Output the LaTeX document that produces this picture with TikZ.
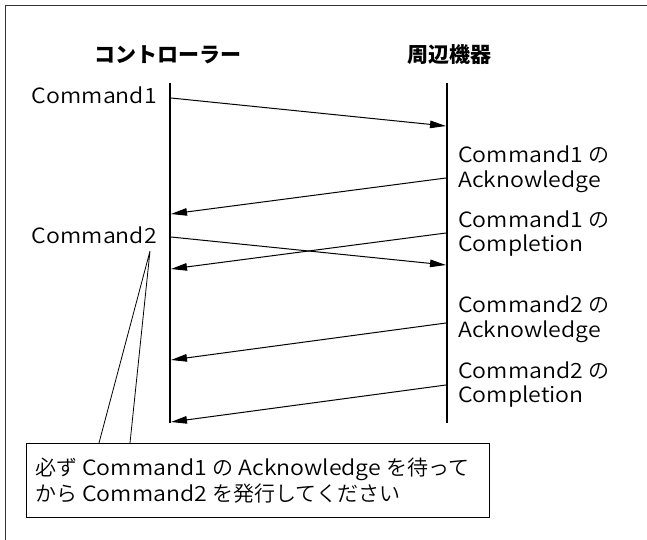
\documentclass[tikz,border=0pt]{standalone}
\usepackage{fontspec}
\newfontfamily\jpb{Noto Sans CJK JP}
\newfontfamily\jp{Noto Sans CJK JP DemiLight}
\newfontfamily\la{Noto Sans CJK JP DemiLight}[FakeStretch=1.1]
\usetikzlibrary{arrows.meta}
\begin{document}
\begin{tikzpicture}[x=1pt,y=-1pt,
  frame/.style={line width=1.3pt,black!80},
  life/.style={line width=2pt},
  msg/.style={line width=1pt,-{Triangle[length=16pt,width=7.5pt]}},
  title/.style={inner sep=0pt,font=\jpb\bfseries\fontsize{21}{25}\selectfont},
  lbl/.style={inner sep=0pt,anchor=base west,font=\la\fontsize{21}{25}\selectfont},
  lblr/.style={inner sep=0pt,anchor=base east,font=\la\fontsize{21}{25}\selectfont},
  callbox/.style={draw,line width=1pt,fill=white,anchor=north west,inner sep=0pt,
    minimum width=463pt,minimum height=74pt},
  pointer/.style={line width=0.8pt}]
\useasboundingbox (0,0) rectangle (647,540);
\draw[frame] (5.5,540) -- (5.5,5.5) -- (647,5.5);

% titles
\node[title] (tctl) at (168,55) {コントローラー};
\node[title] (tdev) at (449,55) {周辺機器};

% lifelines
\coordinate (Ltop) at (170,83);
\coordinate (Lbot) at (170,423);
\coordinate (Rtop) at (447,83);
\coordinate (Rbot) at (447,423);
\draw[life] (Ltop) -- (Lbot);
\draw[life] (Rtop) -- (Rbot);

% message end points
\coordinate (a1s) at (171,98);  \coordinate (a1e) at (446,126);
\coordinate (a2s) at (446,178); \coordinate (a2e) at (171,214);
\coordinate (a3s) at (446,233); \coordinate (a3e) at (171,269);
\coordinate (a4s) at (171,237); \coordinate (a4e) at (446,265);
\coordinate (a5s) at (446,323); \coordinate (a5e) at (171,360);
\coordinate (a6s) at (446,385); \coordinate (a6e) at (171,422);
\draw[msg] (a1s) -- (a1e);
\draw[msg] (a2s) -- (a2e);
\draw[msg] (a3s) -- (a3e);
\draw[msg] (a4s) -- (a4e);
\draw[msg] (a5s) -- (a5e);
\draw[msg] (a6s) -- (a6e);

% left labels
\node[lblr] (c1) at (157,104) {Command1};
\node[lblr] (c2) at (157,243) {Command2};

% right labels
\node[lbl] (r1a) at (458,163) {Command1 {\jp の}};
\node[lbl] (r1b) at (458,187) {Acknowledge};
\node[lbl] (r2a) at (458,227) {Command1 {\jp の}};
\node[lbl] (r2b) at (458,251) {Completion};
\node[lbl] (r3a) at (458,312) {Command2 {\jp の}};
\node[lbl] (r3b) at (458,337) {Acknowledge};
\node[lbl] (r4a) at (458,378) {Command2 {\jp の}};
\node[lbl] (r4b) at (458,402) {Completion};

% callout
\coordinate (tip) at (150,251);
\coordinate (p1) at (99,443);
\coordinate (p2) at (130,443);
\draw[pointer] (p1) -- (tip) -- (p2);
\node[callbox] (note) at (26,443) {};
\node[lbl] (n1) at (35,475) {{\jp 必ず} Command1 {\jp の} Acknowledge {\jp を待って}};
\node[lbl] (n2) at (35,501) {{\jp から} Command2 {\jp を発行してください}};
\end{tikzpicture}
\end{document}
